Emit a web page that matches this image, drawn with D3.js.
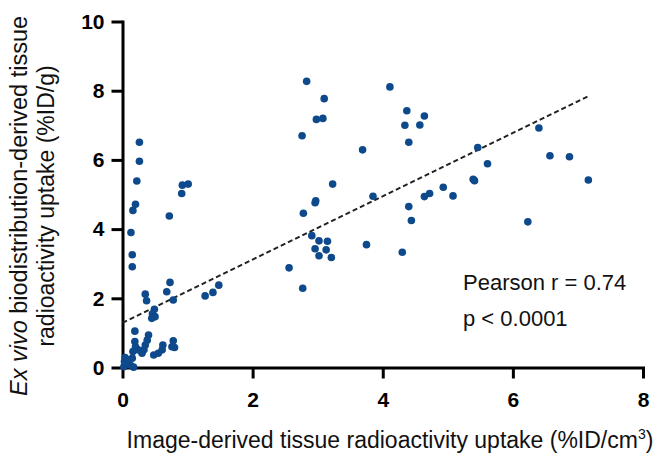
<!DOCTYPE html>
<html>
<head>
<meta charset="utf-8">
<script src="https://cdn.jsdelivr.net/npm/d3@7"></script>
<style>
  body { margin: 0; background: #fff; }
  text { font-family: "Liberation Sans", Arial, sans-serif; }
</style>
</head>
<body>
<svg id="chart" width="657" height="456"></svg>
<script>
'use strict';

// image-derived uptake (%ID/cm3)
const imageUptake = [
    0.26, 0.26, 0.22, 0.20, 0.16, 0.13, 0.15, 0.15, 0.72, 0.91, 1.01, 0.92,
    0.73, 0.68, 0.78, 0.35, 0.37, 1.27, 1.39, 1.48, 0.49, 0.46, 0.45, 0.50,
    0.19, 0.40, 0.38, 0.35, 0.33, 0.19, 0.20, 0.16, 0.24, 0.30, 0.62, 0.61,
    0.55, 0.48, 0.78, 0.76, 0.80, 0.04, 0.03, 0.07, 0.12, 0.17, 0.02, 0.08,
    0.15,
    2.83, 3.10, 2.98, 3.08, 2.76, 4.11, 4.37, 4.64, 4.34, 4.57, 4.40, 3.69,
    3.23, 3.85, 2.97, 2.96, 2.78, 4.40, 4.44, 4.64, 4.72, 4.93, 5.08, 5.39,
    5.41, 5.46, 5.61, 6.40, 6.57, 6.87, 7.16, 6.23, 2.91, 3.02, 3.15, 2.96,
    3.13, 3.02, 3.21, 3.75, 4.30, 2.56, 2.77
];

// ex vivo biodistribution uptake (%ID/g)
const exVivoUptake = [
    6.51, 5.96, 5.39, 4.72, 4.54, 3.90, 3.26, 2.91, 4.38, 5.03, 5.30, 5.27,
    2.46, 2.19, 1.95, 2.12, 1.93, 2.07, 2.17, 2.38, 1.68, 1.55, 1.42, 1.47,
    1.05, 0.94, 0.79, 0.65, 0.51, 0.75, 0.60, 0.46, 0.51, 0.41, 0.65, 0.51,
    0.41, 0.36, 0.77, 0.60, 0.58, 0.29, 0.17, 0.12, 0.07, 0.01, 0.02, 0.22,
    0.27,
    8.27, 7.77, 7.17, 7.20, 6.70, 8.11, 7.42, 7.27, 7.00, 7.01, 6.51, 6.29,
    5.30, 4.95, 4.82, 4.76, 4.46, 4.65, 4.25, 4.94, 5.03, 5.21, 4.96, 5.44,
    5.40, 6.36, 5.89, 6.92, 6.12, 6.09, 5.42, 4.21, 3.81, 3.66, 3.65, 3.43,
    3.40, 3.23, 3.18, 3.55, 3.33, 2.88, 2.29
];

// regression line ends
const fitX = [0, 7.15];
const fitY = [1.29, 7.83];

const xTicks = [0, 2, 4, 6, 8];
const yTicks = [0, 2, 4, 6, 8, 10];
const statLines = ['Pearson r = 0.74', 'p < 0.0001'];

const svg = d3.select('#chart');
const plotLeft = 122.5, plotRight = 643, plotTop = 21.5, plotBottom = 367.5;

const xScale = d3.scaleLinear().domain([0, 8]).range([plotLeft, plotRight]);
const yScale = d3.scaleLinear().domain([0, 10]).range([plotBottom, plotTop]);

const xAxis = d3.axisBottom(xScale)
    .tickValues(xTicks)
    .tickSizeInner(11)
    .tickSizeOuter(0)
    .tickPadding(14)
    .tickFormat(d3.format('d'));

const yAxis = d3.axisLeft(yScale)
    .tickValues(yTicks)
    .tickSizeInner(11)
    .tickSizeOuter(0)
    .tickPadding(7)
    .tickFormat(d3.format('d'));

const styleAxis = g => {
    g.select('.domain').attr('stroke', '#000').attr('stroke-width', 3).attr('stroke-linecap', 'square');
    g.selectAll('.tick line').attr('stroke', '#000').attr('stroke-width', 3);
    g.selectAll('.tick text')
        .attr('fill', '#000')
        .style('font-family', '"Liberation Sans", Arial, sans-serif')
        .style('font-size', '21px')
        .style('font-weight', 'bold');
};

svg.append('g')
    .attr('transform', `translate(0,${plotBottom})`)
    .call(xAxis)
    .call(styleAxis);

svg.append('g')
    .attr('transform', `translate(${plotLeft},0)`)
    .call(yAxis)
    .call(styleAxis);

// dashed regression line
svg.append('line')
    .attr('x1', xScale(fitX[0]))
    .attr('y1', yScale(fitY[0]))
    .attr('x2', xScale(fitX[1]))
    .attr('y2', yScale(fitY[1]))
    .attr('stroke', '#222')
    .attr('stroke-width', 2)
    .attr('stroke-dasharray', '5,3');

// points
svg.append('g')
    .selectAll('circle')
    .data(imageUptake.map((v, i) => [v, exVivoUptake[i]]))
    .enter()
    .append('circle')
    .attr('cx', d => xScale(d[0]))
    .attr('cy', d => yScale(d[1]))
    .attr('r', 3.8)
    .attr('fill', '#0e4a8b');

// stats text
svg.append('g')
    .selectAll('text')
    .data(statLines)
    .enter()
    .append('text')
    .attr('x', 463)
    .attr('y', (d, i) => 290 + i * 36)
    .style('font-size', '22px')
    .attr('fill', '#111')
    .text(d => d);

// x title
const xTitle = svg.append('text')
    .attr('x', 390)
    .attr('y', 448)
    .attr('text-anchor', 'middle')
    .style('font-size', '23px')
    .attr('fill', '#111');
xTitle.append('tspan').text('Image-derived tissue radioactivity uptake (%ID/cm');
xTitle.append('tspan').attr('dy', -9).style('font-size', '14px').text('3');
xTitle.append('tspan').attr('dy', 9).text(')');

// y title, two lines
const yTitle = svg.append('g')
    .attr('transform', 'translate(0,206) rotate(-90)')
    .attr('fill', '#111');
const line1 = yTitle.append('text')
    .attr('x', 0)
    .attr('y', 27)
    .attr('text-anchor', 'middle')
    .style('font-size', '23.5px');
line1.append('tspan').style('font-style', 'italic').text('Ex vivo');
line1.append('tspan').text(' biodistribution-derived tissue');
yTitle.append('text')
    .attr('x', 0)
    .attr('y', 54)
    .attr('text-anchor', 'middle')
    .style('font-size', '23px')
    .text('radioactivity uptake (%ID/g)');
</script>
</body>
</html>
